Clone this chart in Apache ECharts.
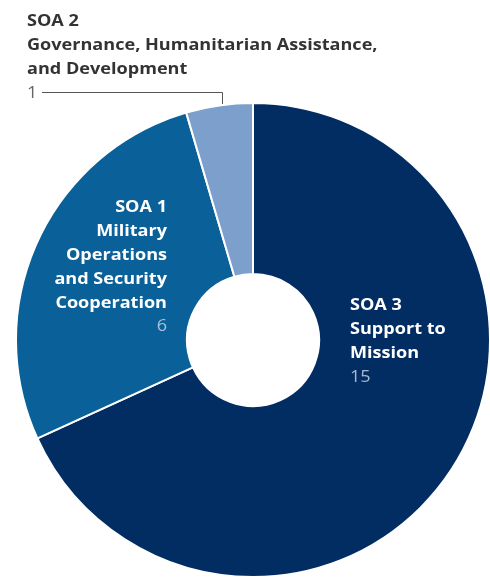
<!DOCTYPE html>
<html>
<head>
<meta charset="utf-8">
<script src="https://cdn.jsdelivr.net/npm/echarts@6/dist/echarts.min.js"></script>
<style>
html,body{margin:0;padding:0;background:#fff;}
#chart{width:490px;height:577px;}
</style>
</head>
<body>
<div id="chart"></div>
<script>
const codes = ['SOA 3', 'SOA 1', 'SOA 2'];
const titles = [['Support to', 'Mission'], ['Military', 'Operations', 'and Security', 'Cooperation'], ['Governance, Humanitarian Assistance,', 'and Development']];
const values = [15, 6, 1];
const colors = ['#022D63', '#0A6199', '#7C9FCB'];

const FONT = '"Open Sans", sans-serif';
const chart = echarts.init(document.getElementById('chart'));

function richText(i) {
  const lines = ['{b|' + codes[i] + '}'].concat(titles[i].map(t => '{b|' + t + '}'));
  lines.push('{v|' + values[i] + '}');
  return lines.join('\n');
}

function labelEl(i, x, y, align, col, vcol) {
  return {
    type: 'text', x: x, y: y, scaleX: 1.13, scaleY: 1, z: 100, silent: true,
    style: {
      text: richText(i), align: align, verticalAlign: 'top',
      rich: {
        b: {fontFamily: FONT, fontWeight: 'bold', fontSize: 16, lineHeight: 23.8, fill: col, align: align},
        v: {fontFamily: FONT, fontWeight: 'normal', fontSize: 16, lineHeight: 23.8, fill: vcol, align: align}
      }
    }
  };
}

chart.setOption({
  animation: false,
  series: [{
    type: 'pie',
    center: [253, 340],
    radius: [66, 237],
    startAngle: 90,
    clockwise: true,
    silent: true,
    label: {show: false},
    labelLine: {show: false},
    itemStyle: {borderColor: '#ffffff', borderWidth: 2},
    data: codes.map((c, i) => ({name: c, value: values[i], itemStyle: {color: colors[i]}}))
  }],
  graphic: [
    labelEl(1, 167, 196, 'right', '#ffffff', '#A9C2DE'),
    labelEl(0, 350, 294, 'left', '#ffffff', '#A9B8CF'),
    labelEl(2, 27, 10, 'left', '#333333', '#666666'),
    {
      type: 'polyline', silent: true, z: 100,
      shape: {points: [[42, 92.5], [222.5, 92.5], [222.5, 104]]},
      style: {stroke: '#555555', lineWidth: 1, fill: null}
    }
  ]
});
</script>
</body>
</html>
